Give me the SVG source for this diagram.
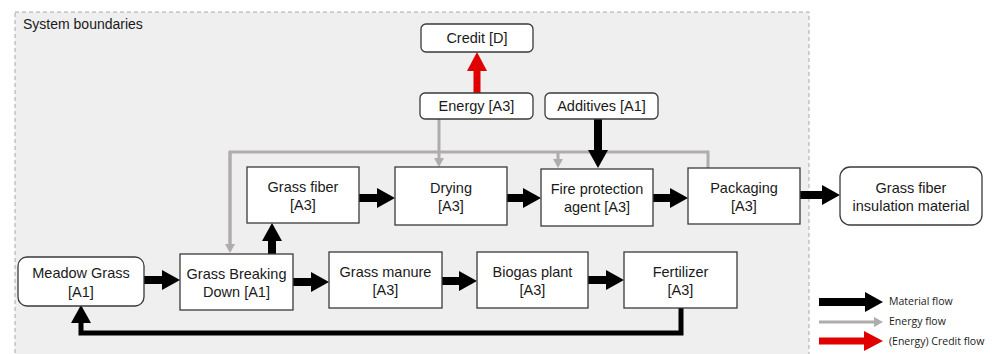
<svg xmlns="http://www.w3.org/2000/svg" width="992" height="354" viewBox="0 0 992 354">
<defs>
<style>
.box{fill:#fff;stroke:#3a3a3a;stroke-width:1.3}
.t{font-family:"Liberation Sans",Arial,sans-serif;font-size:14.5px;fill:#1a1a1a;text-anchor:middle}
.lg{font-family:"Open Sans","Liberation Sans",sans-serif;font-size:10.5px;fill:#1a1a1a}
.mat{stroke:#000;stroke-width:8;fill:none}
.en{stroke:#b0acab;stroke-width:3;fill:none}
.cr{stroke:#e00000;stroke-width:7;fill:none}
</style>
<marker id="hm" markerUnits="userSpaceOnUse" markerWidth="18" markerHeight="20" refX="0" refY="10" orient="auto"><path d="M0,0 L18,10 L0,20 z" fill="#000"/></marker>
<marker id="he" markerUnits="userSpaceOnUse" markerWidth="9" markerHeight="10" refX="0" refY="5" orient="auto"><path d="M0,0 L9,5 L0,10 z" fill="#b0acab"/></marker>
<marker id="hr" markerUnits="userSpaceOnUse" markerWidth="19" markerHeight="20" refX="0" refY="10" orient="auto"><path d="M0,0 L19,10 L0,20 z" fill="#e00000"/></marker>
</defs>
<rect x="0" y="0" width="992" height="354" fill="#fff"/>
<rect x="15" y="12" width="794" height="360" fill="#efefef" stroke="#a8a8a8" stroke-width="1" stroke-dasharray="4,3"/>
<text x="23" y="29" class="t" style="text-anchor:start;font-size:14px">System boundaries</text>

<g id="connectors">
<path class="en" d="M439,119 V158" marker-end="url(#he)"/>
<path class="en" d="M230,244 V152 H708 V168"/>
<path class="en" d="M230,152 V244" marker-end="url(#he)"/>
<path class="en" d="M558,152 V159" marker-end="url(#he)"/>
<path class="cr" d="M477,93 V71" marker-end="url(#hr)"/>
<path class="mat" d="M598,119 V150" marker-end="url(#hm)"/>
<path class="mat" d="M144,280 H162" marker-end="url(#hm)"/>
<path class="mat" d="M293,282 H311" marker-end="url(#hm)"/>
<path class="mat" d="M442,281 H459" marker-end="url(#hm)"/>
<path class="mat" d="M588,280 H606" marker-end="url(#hm)"/>
<path class="mat" d="M272,254 V241" marker-end="url(#hm)"/>
<path class="mat" d="M359,198 H377" marker-end="url(#hm)"/>
<path class="mat" d="M507,198 H523" marker-end="url(#hm)"/>
<path class="mat" d="M653,198 H670" marker-end="url(#hm)"/>
<path class="mat" d="M800,195 H822" marker-end="url(#hm)"/>
<path d="M681,308 V333 H81 V323" stroke="#000" stroke-width="5" fill="none" marker-end="url(#hm)"/>
</g>

<g id="credit"><rect class="box" x="421" y="24" width="112" height="28" rx="5"/><text class="t" x="477" y="43">Credit [D]</text></g>
<g id="energy"><rect class="box" x="420" y="93" width="113" height="26" rx="5"/><text class="t" x="476.5" y="111">Energy [A3]</text></g>
<g id="additives"><rect class="box" x="545" y="93" width="113" height="26" rx="5"/><text class="t" x="601.5" y="111">Additives [A1]</text></g>
<g id="grassfiber"><rect class="box" x="247" y="167" width="112" height="56"/><text class="t" x="303" y="192">Grass fiber</text><text class="t" x="303" y="210">[A3]</text></g>
<g id="drying"><rect class="box" x="395" y="167" width="112" height="58"/><text class="t" x="451" y="193">Drying</text><text class="t" x="451" y="211">[A3]</text></g>
<g id="fire"><rect class="box" x="541" y="169" width="112" height="57"/><text class="t" x="597" y="194">Fire protection</text><text class="t" x="597" y="212">agent [A3]</text></g>
<g id="packaging"><rect class="box" x="688" y="168" width="112" height="56"/><text class="t" x="744" y="193">Packaging</text><text class="t" x="744" y="211">[A3]</text></g>
<g id="insulation"><rect class="box" x="840" y="167" width="142" height="58" rx="10"/><text class="t" x="911" y="193">Grass fiber</text><text class="t" x="911" y="211">insulation material</text></g>
<g id="meadow"><rect class="box" x="18" y="257" width="126" height="49" rx="9"/><text class="t" x="81" y="278">Meadow Grass</text><text class="t" x="81" y="297">[A1]</text></g>
<g id="breaking"><rect class="box" x="180" y="254" width="113" height="56"/><text class="t" x="236.5" y="279">Grass Breaking</text><text class="t" x="236.5" y="297">Down [A1]</text></g>
<g id="manure"><rect class="box" x="329" y="252" width="113" height="56"/><text class="t" x="385.5" y="277">Grass manure</text><text class="t" x="385.5" y="295">[A3]</text></g>
<g id="biogas"><rect class="box" x="477" y="252" width="111" height="56"/><text class="t" x="532.5" y="277">Biogas plant</text><text class="t" x="532.5" y="295">[A3]</text></g>
<g id="fertilizer"><rect class="box" x="624" y="252" width="113" height="56"/><text class="t" x="680.5" y="277">Fertilizer</text><text class="t" x="680.5" y="295">[A3]</text></g>

<g id="legend">
<path class="mat" d="M819,302 H865" marker-end="url(#hm)"/>
<text class="lg" x="889" y="305">Material flow</text>
<path class="en" d="M819,322 H874" marker-end="url(#he)"/>
<text class="lg" x="889" y="325">Energy flow</text>
<path class="cr" d="M819,341 H864" marker-end="url(#hr)"/>
<text class="lg" x="889" y="345">(Energy) Credit flow</text>
</g>
</svg>
